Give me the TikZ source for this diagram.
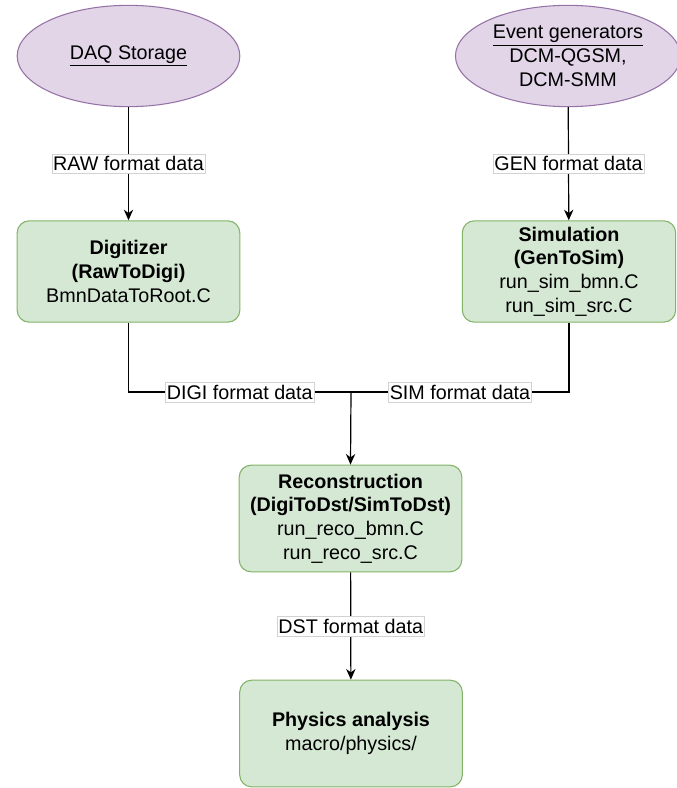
\documentclass[tikz,border=0pt]{standalone}
\usepackage{fontspec}
\setmainfont{Liberation Sans}
\usetikzlibrary{shapes.geometric,arrows.meta}

\definecolor{srcfill}{HTML}{E1D5E7}
\definecolor{srcline}{HTML}{9673A6}
\definecolor{stagefill}{HTML}{D5E8D4}
\definecolor{stageline}{HTML}{82B366}

\begin{document}
\begin{tikzpicture}[x=0.75pt, y=-0.75pt, font=\fontsize{14.8}{17.8}\selectfont, >={Stealth[length=8pt,width=7pt]}]

\tikzstyle{source}=[ellipse, draw=srcline, fill=srcfill, minimum width=167pt, minimum height=76pt, align=center, line width=0.8pt]
\tikzstyle{stage}=[rectangle, rounded corners=9pt, draw=stageline, fill=stagefill, minimum width=167pt, minimum height=76pt, align=center, line width=0.8pt]
\tikzstyle{arrow}=[->, line width=0.9pt]
\tikzstyle{link}=[line width=0.9pt]
\tikzstyle{datalabel}=[fill=white, draw=gray!35, line width=0.4pt, inner xsep=1pt, inner ysep=2pt]

\useasboundingbox (0,0) rectangle (676,788);

\node (A) [source] at (128.5,56) {\underline{DAQ Storage}};

\node (B) [source, minimum width=162pt] at (568,56) {\underline{Event generators}\\DCM-QGSM,\\DCM-SMM};

\node (C) [stage] at (128.5,271.5) {\textbf{Digitizer}\\\textbf{(RawToDigi)}\\BmnDataToRoot.C};

\node (D) [stage, minimum width=160pt] at (569,271.5) {\textbf{Simulation}\\\textbf{(GenToSim)}\\run\_sim\_bmn.C\\run\_sim\_src.C};

\node (E) [stage, minimum height=80pt] at (350.5,518.5) {\textbf{Reconstruction}\\\textbf{(DigiToDst/SimToDst)}\\run\_reco\_bmn.C\\run\_reco\_src.C};

\node (F) [stage, minimum height=80pt] at (351,733.5) {\textbf{Physics analysis}\\macro/physics/};

\coordinate (J) at (351,392);

\draw [arrow] (A) -- node [datalabel] {RAW format data} (C);
\draw [arrow] (B) -- node [datalabel] {GEN format data} (D);
\draw [link] (C.south) |- node [datalabel, pos=0.75] {DIGI format data} (J);
\draw [link] (D.south) |- node [datalabel, pos=0.75] {SIM format data} (J);
\draw [arrow] (J) -- (E.north);
\draw [arrow] (E) -- node [datalabel] {DST format data} (F);

\end{tikzpicture}
\end{document}
